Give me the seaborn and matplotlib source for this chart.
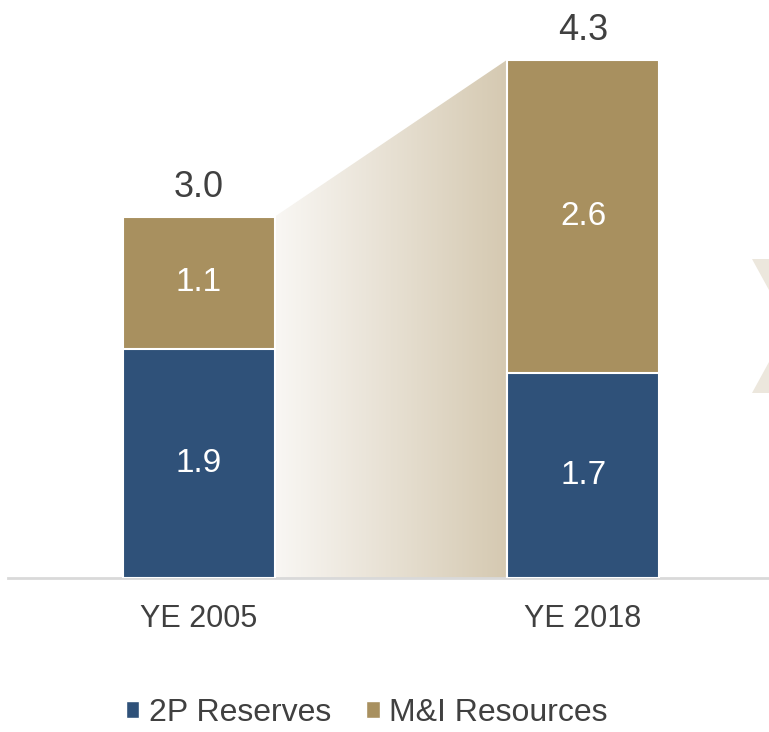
import numpy as np
import pandas as pd
import seaborn as sns
import matplotlib.pyplot as plt
from matplotlib.patches import Polygon, Patch
from matplotlib.colors import LinearSegmentedColormap

# chart data
years = ['YE 2005', 'YE 2018']
reserves_2p = [1.9, 1.7]
mi_resources = [1.1, 2.6]
totals = [3.0, 4.3]

blue = '#2F5179'
tan = '#A8905F'
txt = '#404040'

sns.set_style('white')
plt.rcParams['font.family'] = ['Liberation Sans', 'DejaVu Sans']

df = pd.DataFrame({'year': years, 'reserves': reserves_2p,
                   'resources': mi_resources, 'total': totals})

fig = plt.figure(figsize=(7.69, 7.32), dpi=100)
ax = fig.add_axes([8 / 769, 1 - 578 / 732, 1 - 8 / 769, 4.8 * 120.5 / 732])

bw = 0.396
# stacked bars: full total in tan, reserves in blue drawn over the bottom
sns.barplot(data=df, x='year', y='total', color=tan, width=bw, saturation=1,
            edgecolor='white', linewidth=1.5, ax=ax, zorder=3)
sns.barplot(data=df, x='year', y='reserves', color=blue, width=bw, saturation=1,
            edgecolor='white', linewidth=1.5, ax=ax, zorder=4)

# gradient band connecting the two bar tops
x0, x1 = 0 + bw / 2, 1 - bw / 2
cmap = LinearSegmentedColormap.from_list('band', ['#F9F7F4', '#D5C9B1'])
grad = np.linspace(0, 1, 256).reshape(1, -1)
im = ax.imshow(grad, cmap=cmap, extent=[x0, x1, 0, max(totals)],
               aspect='auto', zorder=1, interpolation='bilinear')
band = Polygon([(x0, 0), (x0, totals[0]), (x1, totals[1]), (x1, 0)],
               closed=True, transform=ax.transData, facecolor='none', edgecolor='none')
ax.add_patch(band)
im.set_clip_path(band)

# labels
for i in range(len(years)):
    ax.text(i, reserves_2p[i] / 2, f'{reserves_2p[i]:.1f}', ha='center', va='center',
            color='white', fontsize=24, zorder=5)
    ax.text(i, reserves_2p[i] + mi_resources[i] / 2, f'{mi_resources[i]:.1f}',
            ha='center', va='center', color='white', fontsize=24, zorder=5)
    ax.annotate(f'{totals[i]:.1f}', (i, totals[i]), xytext=(0, 14),
                textcoords='offset points', ha='center', va='baseline',
                color=txt, fontsize=26)

ax.set_xlim(-0.497, 1.484)
ax.set_ylim(0, 4.8)
ax.set_xlabel('')
ax.set_ylabel('')
ax.set_yticks([])
ax.tick_params(axis='x', length=0, pad=19, labelsize=22, labelcolor=txt)
for s in ['top', 'right', 'left']:
    ax.spines[s].set_visible(False)
ax.spines['bottom'].set_color('#D9D9D9')
ax.spines['bottom'].set_linewidth(2)
ax.patch.set_alpha(0)

# decorative chevron at the right edge
W, H = 769, 732
pts = [(752, 259), (830, 259), (830, 393), (752, 393), (788.7, 326)]
chev = Polygon([(px / W, 1 - py / H) for px, py in pts], closed=True,
               transform=fig.transFigure, facecolor='#ECE7DD', edgecolor='none')
fig.patches.append(chev)

handles = [Patch(facecolor=blue, label='2P Reserves'),
           Patch(facecolor=tan, label='M&I Resources')]
fig.legend(handles=handles, loc='center', bbox_to_anchor=(0.477, 1 - 713 / 732),
           ncol=2, frameon=False, fontsize=23, labelcolor=txt,
           handlelength=0.42, handleheight=0.42, handletextpad=0.3,
           columnspacing=1.1, borderpad=0)

fig.savefig('out.png', dpi=100)
